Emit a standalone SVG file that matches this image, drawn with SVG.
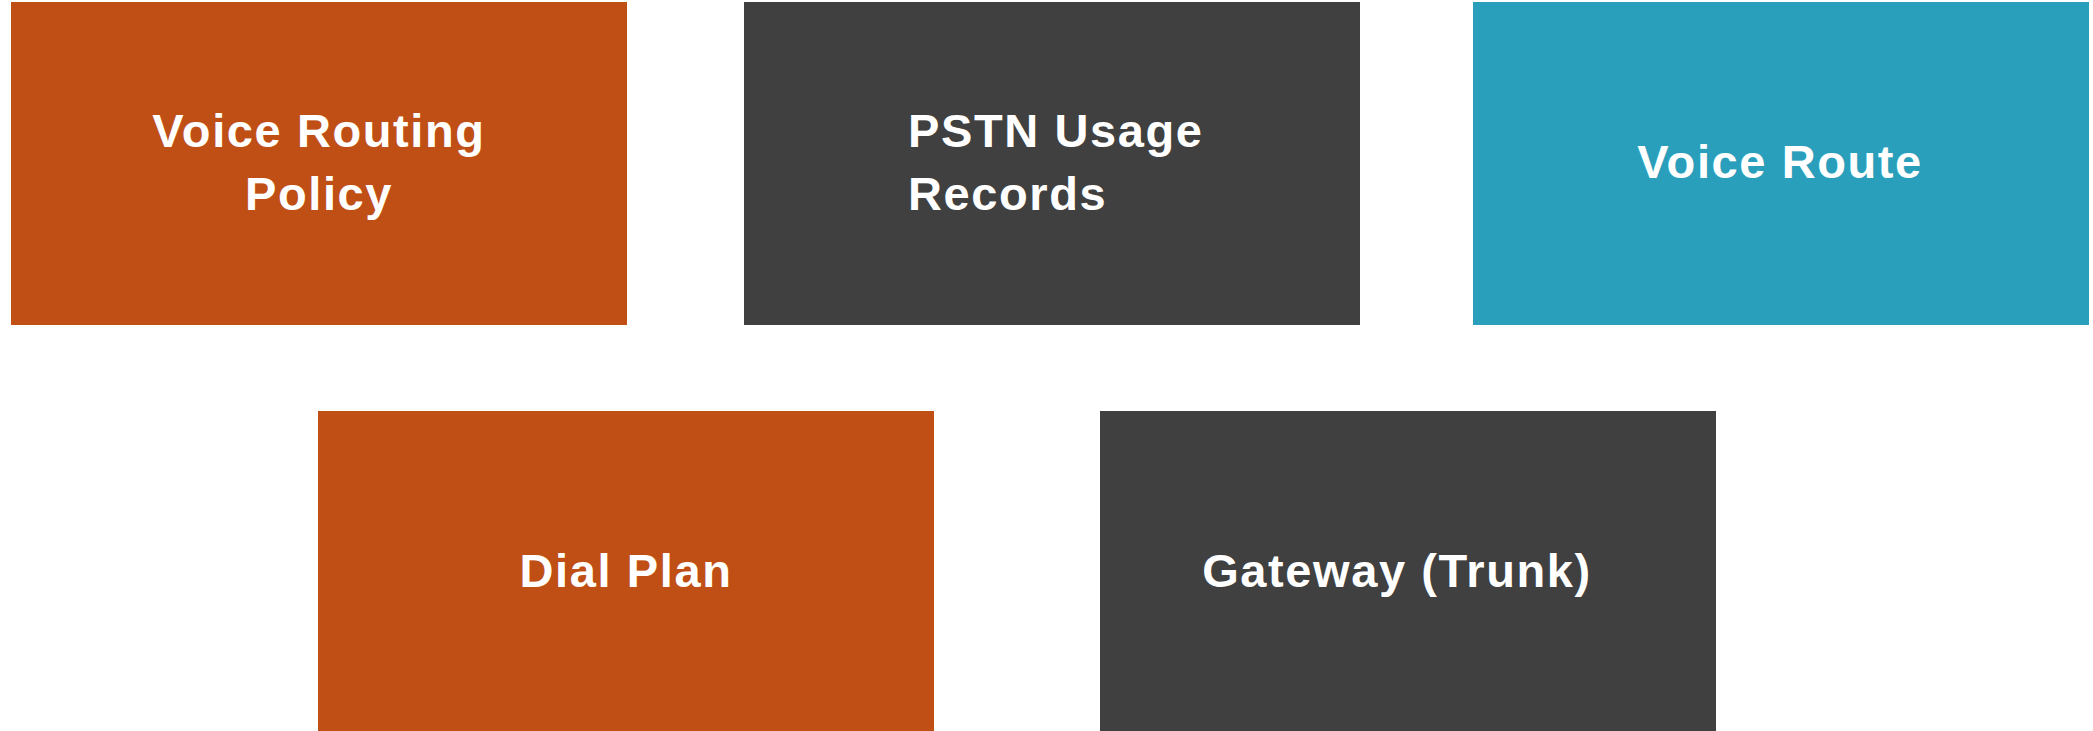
<svg xmlns="http://www.w3.org/2000/svg" width="2093" height="731" viewBox="0 0 2093 731">
<style>
.t{font-family:"Liberation Sans",Arial,sans-serif;font-weight:bold;font-size:47px;fill:#ffffff;letter-spacing:1.6px}
.c{text-anchor:middle}
.or{fill:#C04F15}
.dk{fill:#404040}
.tl{fill:#2A9FBC}
</style>
<rect width="2093" height="731" fill="#ffffff"/>
<g id="connectors"></g>
<g id="voice-routing-policy">
<rect class="or" x="11" y="2" width="616" height="323"/>
<text class="t c" x="319" y="147">Voice Routing</text>
<text class="t c" x="319" y="210">Policy</text>
</g>
<g id="pstn-usage-records">
<rect class="dk" x="744" y="2" width="616" height="323"/>
<text class="t" x="908" y="147">PSTN Usage</text>
<text class="t" x="908" y="210">Records</text>
</g>
<g id="voice-route">
<rect class="tl" x="1473" y="2" width="616" height="323"/>
<text class="t c" x="1780" y="178">Voice Route</text>
</g>
<g id="dial-plan">
<rect class="or" x="318" y="411" width="616" height="330"/>
<text class="t c" x="626" y="587">Dial Plan</text>
</g>
<g id="gateway-trunk">
<rect class="dk" x="1100" y="411" width="616" height="330"/>
<text class="t c" x="1397" y="587">Gateway (Trunk)</text>
</g>
</svg>
